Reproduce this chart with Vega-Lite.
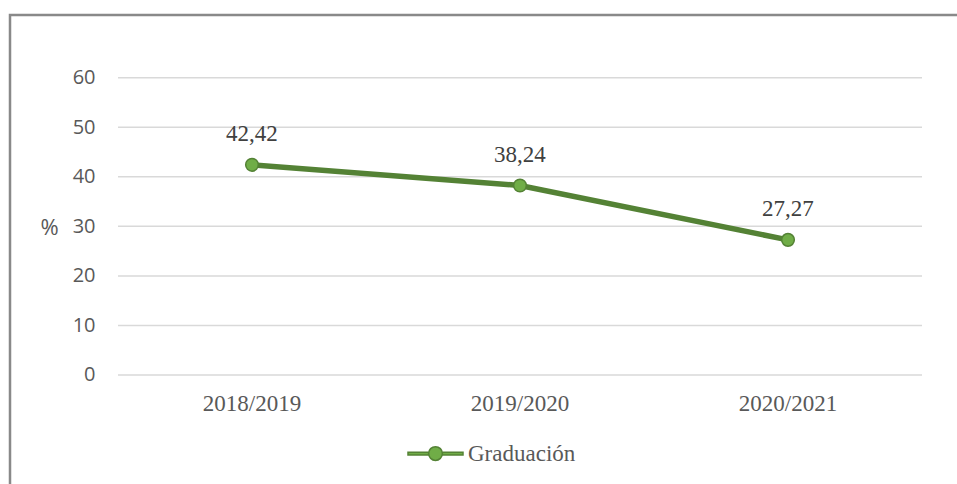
{
  "$schema": "https://vega.github.io/schema/vega-lite/v6.json",
  "width": 960,
  "height": 480,
  "autosize": {"type": "none"},
  "padding": {"left": 10, "top": 15, "right": 0, "bottom": 0},
  "background": "white",
  "config": {
    "view": {"stroke": "#898989", "strokeWidth": 2.5},
    "locale": {"number": {"decimal": ",", "thousands": ".", "grouping": [3], "currency": ["", " €"]}},
    "axis": {"domain": false, "ticks": false, "grid": false}
  },
  "datasets": {
    "serie": [
      {"curso": "2018/2019", "valor": 42.42, "serie": "Graduación"},
      {"curso": "2019/2020", "valor": 38.24, "serie": "Graduación"},
      {"curso": "2020/2021", "valor": 27.27, "serie": "Graduación"}
    ],
    "grid": [{"v": 0}, {"v": 10}, {"v": 20}, {"v": 30}, {"v": 40}, {"v": 50}, {"v": 60}]
  },
  "layer": [
    {
      "data": {"name": "grid"},
      "mark": {"type": "rule", "color": "#d9d9d9", "strokeWidth": 1.5},
      "encoding": {
        "x": {
          "datum": "2018/2019",
          "type": "nominal",
          "bandPosition": 0,
          "scale": {"type": "band", "domain": ["2018/2019", "2019/2020", "2020/2021"], "paddingInner": 0, "paddingOuter": 0.29104, "align": 0.6923},
          "axis": {"title": null, "labelFont": "Liberation Serif", "labelFontSize": 23, "labelColor": "#595959", "labelBaseline": "alphabetic", "labelPadding": 35, "offset": -120, "labelAngle": 0}
        },
        "x2": {"datum": "2020/2021", "bandPosition": 1},
        "y": {
          "field": "v",
          "type": "quantitative",
          "scale": {"domain": [-24.22, 72.654], "nice": false, "zero": false},
          "axis": {"title": "%", "titleAngle": 0, "titleFont": "Open Sans", "titleFontSize": 22, "titleFontWeight": "normal", "titleColor": "#595959", "titleX": -46, "titleY": 212, "titleAlign": "center", "titleBaseline": "middle", "values": [0, 10, 20, 30, 40, 50, 60], "labelFont": "Open Sans", "labelFontSize": 20, "labelColor": "#595959", "labelPadding": 0, "offset": -85}
        }
      }
    },
    {
      "data": {"name": "serie"},
      "mark": {"type": "line", "strokeWidth": 5.5},
      "encoding": {
        "x": {"field": "curso", "type": "nominal", "bandPosition": 0.5},
        "y": {"field": "valor", "type": "quantitative"},
        "color": {
          "field": "serie",
          "type": "nominal",
          "scale": {"range": ["#548235"]},
          "legend": {
            "title": null,
            "orient": "none",
            "legendX": 397,
            "legendY": 410,
            "padding": 0,
            "symbolSize": 3025,
            "labelFont": "Liberation Serif",
            "labelFontSize": 23,
            "labelColor": "#595959",
            "labelOffset": 4,
            "encode": {
              "symbols": {
                "update": {
                  "fill": {"value": "#70AD47"},
                  "stroke": {"value": "#548235"},
                  "strokeWidth": {"value": 1.5},
                  "opacity": {"value": 1},
                  "shape": {"value": "M-1,-0.05H-0.25V0.05H-1Z M0.25,-0.05H1V0.05H0.25Z M0.25,0A0.25,0.25,0,1,1,-0.25,0A0.25,0.25,0,1,1,0.25,0Z"}
                }
              }
            }
          }
        }
      }
    },
    {
      "data": {"name": "serie"},
      "mark": {"type": "point", "filled": true, "size": 160, "fill": "#70AD47", "stroke": "#548235", "strokeWidth": 1.5, "opacity": 1},
      "encoding": {
        "x": {"field": "curso", "type": "nominal", "bandPosition": 0.5},
        "y": {"field": "valor", "type": "quantitative"}
      }
    },
    {
      "data": {"name": "serie"},
      "mark": {"type": "text", "font": "Liberation Serif", "fontSize": 23, "color": "#404040", "baseline": "alphabetic", "dy": -24},
      "encoding": {
        "x": {"field": "curso", "type": "nominal", "bandPosition": 0.5},
        "y": {"field": "valor", "type": "quantitative"},
        "text": {"field": "valor", "type": "quantitative", "format": ".2f"}
      }
    }
  ]
}
